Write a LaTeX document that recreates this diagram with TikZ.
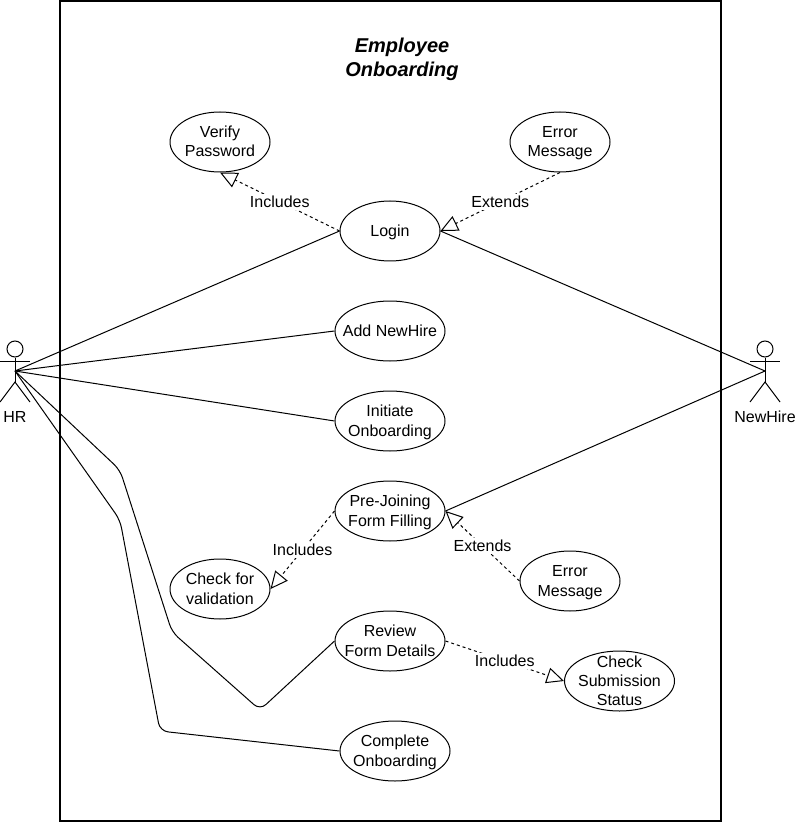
\documentclass[tikz,border=0pt]{standalone}
\usepackage{fontspec}
\setmainfont{Liberation Sans}
\usetikzlibrary{arrows.meta,shapes.geometric}

\begin{document}
\begin{tikzpicture}
[x=0.75pt,y=-0.75pt,line width=0.75pt,%
  caseDecorate/.style={shape=ellipse,draw,inner sep=-9pt,align=center,font=\fontsize{12}{14.5}\selectfont},%
  actorDecorate/.style={line width=0.75pt},%
  lineDecorate/.style={-},%
  routeDecorate/.style={-,rounded corners=6pt},%
  relDecorate/.style={dashed,dash pattern=on 2.25pt off 2.25pt,-{Triangle[open,length=13pt,width=12pt,line width=0.75pt]}},%
  relLabel/.style={fill=white,inner sep=1.5pt,font=\fontsize{12}{14.5}\selectfont},%
  actorLabel/.style={font=\fontsize{12}{14.5}\selectfont}]
\useasboundingbox (0,0) rectangle (796,823);
%% system boundary
\node (frame) at (390.5,411) [draw,line width=1.5pt,minimum width=495.75pt,minimum height=615pt,inner sep=0pt] {};
\node (title) at (402,59) [align=center,font=\fontsize{15}{18}\selectfont\bfseries\itshape] {Employee\\Onboarding};
%% use cases
\foreach \nodename/\x/\y/\w/\txt in {verify/220/142/100/{Verify\\Password},
  errorA/560/142/100/{Error\\Message}, login/390/231/100/{Login},
  addhire/390/331/110/{Add NewHire}, initiate/390/421/110/{Initiate\\Onboarding},
  prejoin/390/511/110/{Pre-Joining\\Form Filling}, validate/220/589/100/{Check for\\validation},
  errorB/570/581/100/{Error\\Message}, review/390/641/110/{Review\\Form Details},
  status/619.5/681/110/{Check\\Submission\\Status}, complete/395/751/110/{Complete\\Onboarding}}
{
  \node (\nodename) at (\x,\y) [caseDecorate,minimum width=\w*0.75pt,minimum height=45pt] {\rule{0pt}{11pt}\txt\rule[-3pt]{0pt}{0pt}};
}
%% actors
\foreach \nodename/\x/\txt in {hr/15/HR, newhire/765/NewHire}
{
  \coordinate (\nodename) at (\x,371);
  \node (\nodename head) at (\x,349) [shape=circle,draw,minimum size=12pt,inner sep=0pt] {};
  \coordinate (\nodename foot) at (\x,382);
  \draw[actorDecorate] (\nodename head) -- (\nodename foot);
  \draw[actorDecorate] (\x-15,361) -- (\x+15,361);
  \draw[actorDecorate] (\x-15,402) -- (\nodename foot) -- (\x+15,402);
  \node (\nodename label) at (\x,417) [actorLabel] {\txt};
}
%% edges or lines
\path
\foreach \startnode/\endnode in {
  hr/login.west, hr/addhire.west, hr/initiate.west,
  newhire/login.east, newhire/prejoin.east}
{
  (\startnode) edge[lineDecorate] (\endnode)
};
\draw[routeDecorate] (hr) -- (120,470) -- (172,632) -- (260,710) -- (review.west);
\draw[routeDecorate] (hr) -- (120,520) -- (160,731) -- (complete.west);
%% includes and extends
\foreach \startnode/\endnode/\txt/\pos in {
  login.west/verify.south/Includes/0.5, errorA.south/login.east/Extends/0.5,
  prejoin.west/validate.east/Includes/0.5, errorB.west/prejoin.east/Extends/0.5,
  review.east/status.west/Includes/0.5}
{
  \draw[relDecorate] (\startnode) -- node[relLabel,pos=\pos] {\txt} (\endnode);
}
\end{tikzpicture}
\end{document}
